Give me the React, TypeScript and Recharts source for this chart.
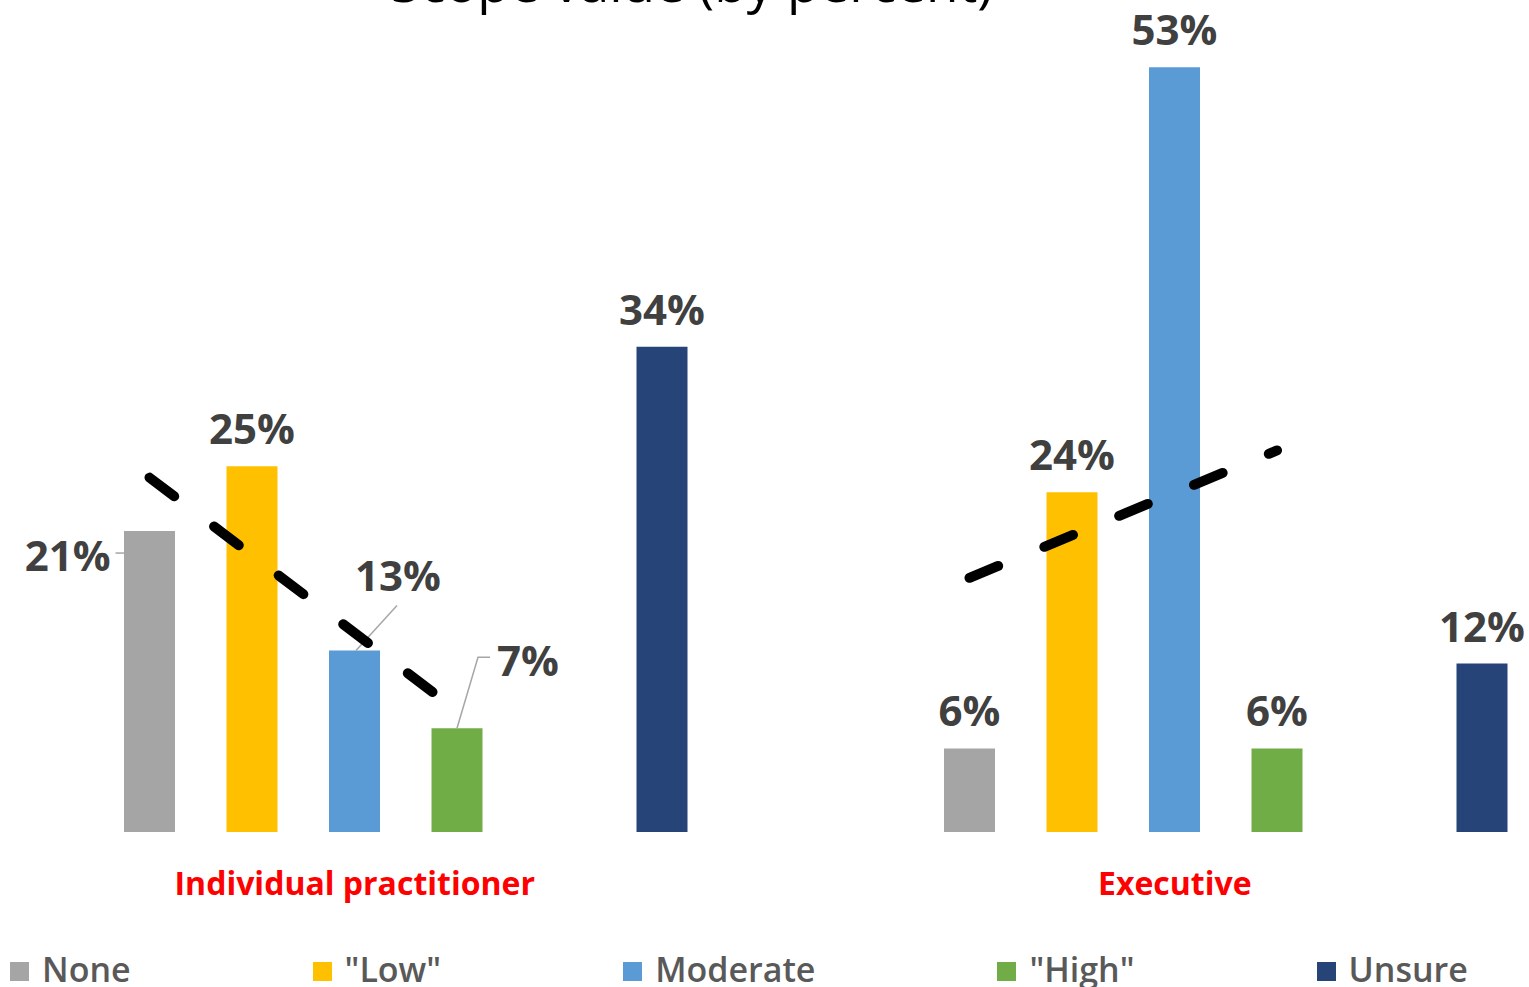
import React from 'react';
import { ComposedChart, Bar, XAxis, YAxis, LabelList } from 'recharts';

// ---------- data ----------
const TITLE = 'Scope value (by percent)';
const groups = ['Individual practitioner', 'Executive'];
const noneValues = [20.9, 5.8];
const lowValues = [25.4, 23.6];
const moderateValues = [12.6, 53.1];
const highValues = [7.2, 5.8];
const unsureValues = [33.7, 11.7];

const SERIES = [
  { key: 'none', name: 'None', values: noneValues, color: '#A5A5A5' },
  { key: 'low', name: '"Low"', values: lowValues, color: '#FFC000' },
  { key: 'moderate', name: 'Moderate', values: moderateValues, color: '#5B9BD5' },
  { key: 'high', name: '"High"', values: highValues, color: '#70AD47' },
  { key: 'unsure', name: 'Unsure', values: unsureValues, color: '#264478' },
];
const TREND_KEYS = ['none', 'low', 'moderate', 'high'];

const data = groups.map((g, i) => {
  const row: any = { group: g };
  SERIES.forEach((s) => (row[s.key] = s.values[i]));
  return row;
});

// ---------- layout / style ----------
const FONT = '"Open Sans", sans-serif';
const CHART_W = 1640;
const CHART_H = 987;
const CHART_LEFT = -4;
const BAR_SIZE = 51;
const BAR_GAP = 51.5;
const SLOT = BAR_SIZE + BAR_GAP;
const UNSURE_SLOT = 5; // None, Low, Moderate, High, (blank), Unsure
const Y_MAX = 55;

// linear trendline (least squares) through None..High for each group, in data units
const trendFits = groups.map((_, gi) => {
  const ys = TREND_KEYS.map((k) => (data[gi] as any)[k] as number);
  const n = ys.length;
  const xs = ys.map((_, i) => i);
  const mx = xs.reduce((a, b) => a + b, 0) / n;
  const my = ys.reduce((a, b) => a + b, 0) / n;
  let sxy = 0, sxx = 0;
  xs.forEach((x, i) => { sxy += (x - mx) * (ys[i] - my); sxx += (x - mx) * (x - mx); });
  const m = sxy / sxx;
  const b = my - m * mx;
  return { k0: 0, k1: n - 1, v0: b, v1: b + m * (n - 1) };
});

type LabelCfg = { dx: number; dy: number; anchor: 'start' | 'middle' | 'end'; leader?: number[][] };
const DEFAULT_LABEL: LabelCfg = { dx: 0, dy: -22, anchor: 'middle' };
const LABEL_LAYOUT: Record<string, LabelCfg> = {
  'none-0': { dx: -39, dy: 40, anchor: 'end', leader: [[-34, 22], [-25.5, 22]] },
  'moderate-0': { dx: 43.5, dy: -60, anchor: 'middle', leader: [[42.5, -45], [1.5, 0]] },
  'high-0': { dx: 40, dy: -52, anchor: 'start', leader: [[0, 0], [21, -71], [33, -71]] },
};

const makeLabel = (key: string) => (props: any) => {
  const { x, y, width, height, value, index } = props;
  if (value == null) return null;
  const cfg = LABEL_LAYOUT[`${key}-${index}`] || DEFAULT_LABEL;
  const cx = Number(x) + Number(width) / 2;
  const top = Number(y);
  let trend: React.ReactNode = null;
  if (key === 'unsure') {
    // the last series is drawn on top of all bars: derive the value scale from this bar's geometry
    const base = top + Number(height);
    const pxPerUnit = Number(height) / Number(value);
    const fit = trendFits[index];
    const x0 = cx - (UNSURE_SLOT - fit.k0) * SLOT;
    const x1 = cx - (UNSURE_SLOT - fit.k1) * SLOT;
    trend = (
      <line
        x1={x0}
        y1={base - fit.v0 * pxPerUnit}
        x2={x1}
        y2={base - fit.v1 * pxPerUnit}
        stroke="#000"
        strokeWidth={10}
        strokeDasharray="31 50"
        strokeLinecap="round"
      />
    );
  }
  return (
    <g>
      {trend}
      {cfg.leader && (
        <polyline
          points={cfg.leader.map(([a, b]) => `${cx + a},${top + b}`).join(' ')}
          fill="none"
          stroke="#A6A6A6"
          strokeWidth={1.5}
        />
      )}
      <text
        x={cx + cfg.dx}
        y={top + cfg.dy}
        textAnchor={cfg.anchor}
        fill="#404040"
        fontSize={42}
        fontWeight={700}
        fontFamily={FONT}
      >
        {`${Math.round(value)}%`}
      </text>
    </g>
  );
};

const CategoryTick = (props: any) => {
  const { x, y, payload } = props;
  return (
    <text
      x={x - SLOT / 2}
      y={y + 55}
      textAnchor="middle"
      fill="#FF0000"
      fontSize={32}
      fontWeight={700}
      fontFamily={FONT}
    >
      {payload.value}
    </text>
  );
};

export default function App() {
  const bars = [...SERIES.slice(0, 4), { key: 'spacer', name: '', values: [], color: 'none' }, SERIES[4]];
  return (
    <div style={{ position: 'absolute', left: 0, top: 0, width: 1529, height: 987, overflow: 'hidden', background: '#fff', fontFamily: FONT }}>
      <div
        style={{
          position: 'absolute',
          left: 692 - 700,
          top: -45,
          width: 1400,
          textAlign: 'center',
          fontSize: 53,
          lineHeight: '53px',
          color: '#000',
          whiteSpace: 'nowrap',
        }}
      >
        {TITLE}
      </div>
      <div style={{ position: 'absolute', left: CHART_LEFT, top: 0 }}>
        <ComposedChart
          width={CHART_W}
          height={CHART_H}
          data={data}
          margin={{ top: 40, right: 0, bottom: 55, left: 0 }}
          barSize={BAR_SIZE}
          barGap={BAR_GAP}
        >
          <XAxis dataKey="group" axisLine={false} tickLine={false} tick={<CategoryTick />} interval={0} height={100} />
          <YAxis domain={[0, Y_MAX]} allowDataOverflow hide />
          {bars.map((s) => (
            <Bar key={s.key} dataKey={s.key} name={s.name} fill={s.color} isAnimationActive={false} legendType="none">
              {s.key !== 'spacer' && <LabelList dataKey={s.key} content={makeLabel(s.key)} />}
            </Bar>
          ))}
        </ComposedChart>
      </div>
      <div
        style={{
          position: 'absolute',
          left: 10,
          top: 953,
          display: 'flex',
          alignItems: 'center',
          gap: 182,
          fontSize: 34,
          lineHeight: '32px',
          fontWeight: 600,
          color: '#595959',
          whiteSpace: 'nowrap',
        }}
      >
        {SERIES.map((s) => (
          <div key={s.key} style={{ display: 'flex', alignItems: 'center' }}>
            <span style={{ display: 'inline-block', width: 19, height: 19, background: s.color, marginRight: 13, marginTop: 4 }} />
            <span>{s.name}</span>
          </div>
        ))}
      </div>
    </div>
  );
}
